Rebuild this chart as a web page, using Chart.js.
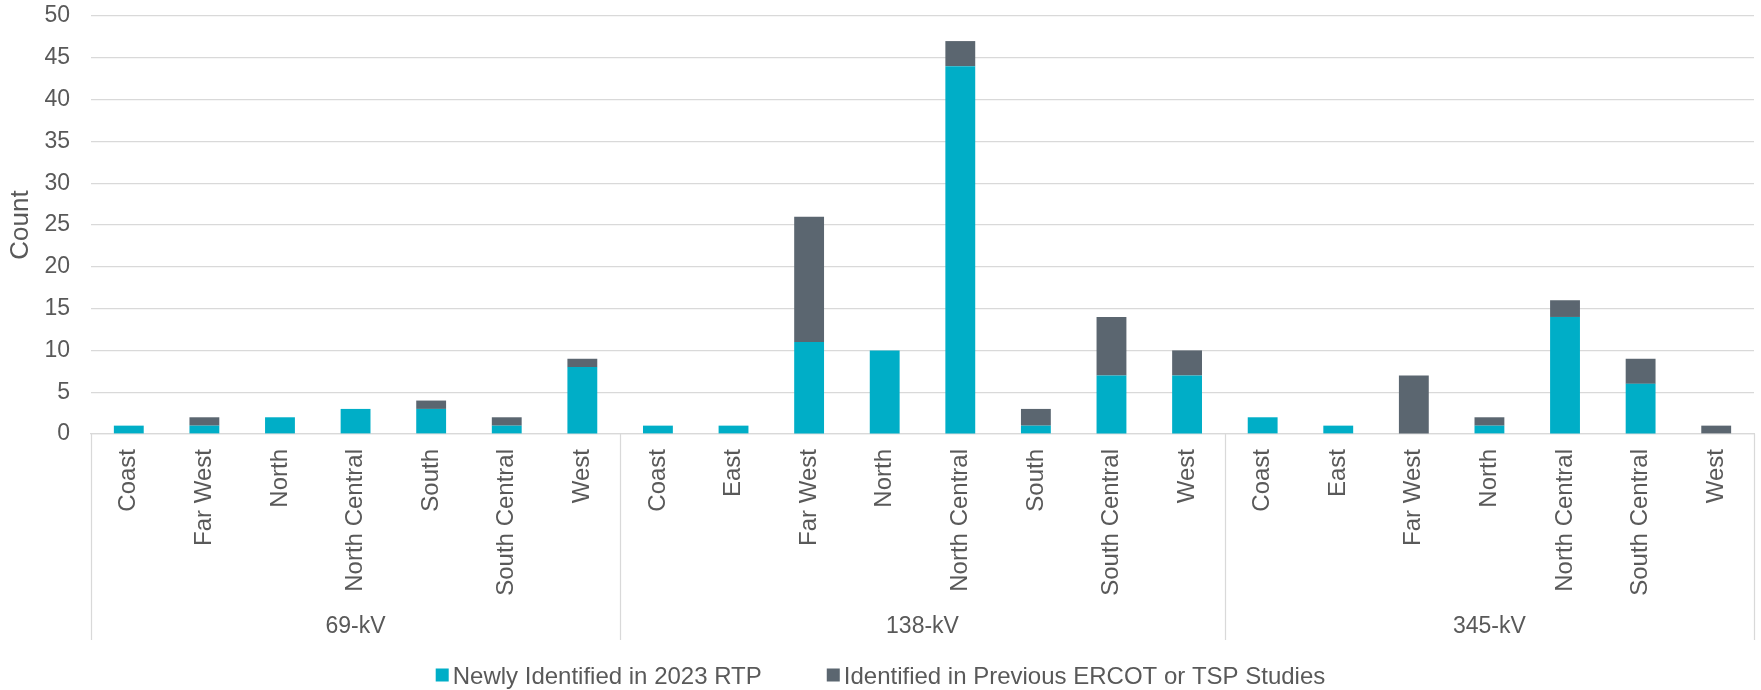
<!DOCTYPE html>
<html><head><meta charset="utf-8">
<script src="https://cdn.jsdelivr.net/npm/chart.js@4"></script>
<style>html,body{margin:0;padding:0;background:#fff}#wrap{width:1761px;height:690px;position:relative}</style>
</head><body><div id="wrap"><canvas id="c"></canvas></div>
<script>
const categories = ['Coast','Far West','North','North Central','South','South Central','West',
  'Coast','East','Far West','North','North Central','South','South Central','West',
  'Coast','East','Far West','North','North Central','South Central','West'];
const groupLabels = ['69-kV','138-kV','345-kV'];
const groupSizes = [7, 8, 7];
const newlyIdentified = [1,1,2,3,3,1,8, 1,1,11,10,44,1,7,7, 2,1,0,1,14,6,0];
const previouslyIdentified = [0,1,0,0,1,1,1, 0,0,15,0,3,2,7,3, 0,0,7,1,2,3,1];
const seriesNames = ['Newly Identified in 2023 RTP','Identified in Previous ERCOT or TSP Studies'];
const yMin = 0, yMax = 50, yStep = 5;

const FONT = '"Liberation Sans", Arial, sans-serif';
const TXT = '#595959';
const GRID = '#D9D9D9';

const groupPlugin = {
  id: 'groupAxis',
  afterDraw(chart) {
    const ctx = chart.ctx, xs = chart.scales.x;
    const top = chart.chartArea.bottom, bottom = xs.bottom;
    const half = (xs.getPixelForValue(1) - xs.getPixelForValue(0)) / 2;
    ctx.save();
    ctx.strokeStyle = GRID; ctx.lineWidth = 1.25;
    let idx = 0;
    const bounds = [xs.getPixelForValue(0) - half];
    groupSizes.forEach(n => { idx += n; bounds.push(xs.getPixelForValue(idx - 1) + half); });
    bounds.forEach(b => { ctx.beginPath(); ctx.moveTo(Math.round(b)+0.5, top); ctx.lineTo(Math.round(b)+0.5, bottom); ctx.stroke(); });
    ctx.fillStyle = TXT; ctx.font = '23px ' + FONT; ctx.textAlign = 'center'; ctx.textBaseline = 'alphabetic';
    groupLabels.forEach((g, i) => { ctx.fillText(g, (bounds[i] + bounds[i+1]) / 2, 633); });
    // legend
    ctx.font = '24px ' + FONT;
    const box = 13, gap = 4, itemGap = 65;
    const items = chart.data.datasets.map(d => ({text: d.label, color: d.backgroundColor}));
    const widths = items.map(it => box + gap + ctx.measureText(it.text).width);
    const total = widths.reduce((a, b) => a + b, 0) + itemGap * (items.length - 1);
    let x = chart.width / 2 - total / 2;
    const yc = 675;
    ctx.textAlign = 'left';
    items.forEach((it, i) => {
      ctx.fillStyle = it.color; ctx.fillRect(x, yc - 6.5, box, box);
      ctx.fillStyle = TXT; ctx.fillText(it.text, x + box + gap, 683.5);
      x += widths[i] + itemGap;
    });
    ctx.restore();
  }
};

new Chart(document.getElementById('c'), {
  type: 'bar',
  data: {
    labels: categories,
    datasets: [
      {label: seriesNames[0], data: newlyIdentified, backgroundColor: '#00AEC7', barPercentage: 0.395, categoryPercentage: 1},
      {label: seriesNames[1], data: previouslyIdentified, backgroundColor: '#5B6670', barPercentage: 0.395, categoryPercentage: 1}
    ]
  },
  options: {
    responsive: true, maintainAspectRatio: false, animation: false,
    layout: {padding: {top: 16, right: 7, bottom: 50, left: 0}},
    plugins: {legend: {display: false}, tooltip: {enabled: false}},
    scales: {
      x: {
        stacked: true,
        grid: {display: false, drawTicks: false},
        border: {display: true, color: GRID, width: 1.25},
        ticks: {autoSkip: false, minRotation: 90, maxRotation: 90, padding: 15, color: TXT, font: {family: FONT, size: 24}},
        afterFit(s) { s.height = 206; }
      },
      y: {
        stacked: true, min: yMin, max: yMax,
        grid: {color: GRID, lineWidth: 1.25, drawTicks: false},
        border: {display: false},
        ticks: {stepSize: yStep, padding: 21, color: TXT, font: {family: FONT, size: 23}},
        title: {display: true, text: 'Count', color: TXT, font: {family: FONT, size: 26}, padding: {top: 5, bottom: 0}},
        afterFit(s) { s.width = 91; s.paddingTop = 0; s.paddingBottom = 0; }
      }
    }
  },
  plugins: [groupPlugin]
});
</script></body></html>
